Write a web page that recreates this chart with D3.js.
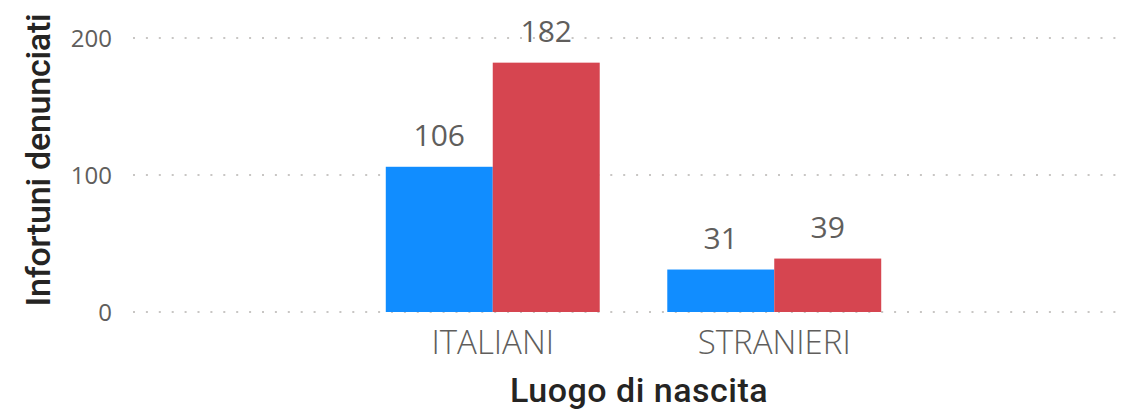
<!DOCTYPE html>
<html>
<head>
<meta charset="utf-8">
<script src="https://cdn.jsdelivr.net/npm/d3@7"></script>
<style>
  body { margin: 0; background: #fff; }
  svg { display: block; }
</style>
</head>
<body>
<svg id="chart" width="1124" height="411"></svg>
<script>
var categories = ['ITALIANI', 'STRANIERI'];
var series = ['s1', 's2'];
var seriesColors = ['#118DFF', '#D64550'];
var values1 = [106, 31];
var values2 = [182, 39];
var yTicks = [0, 100, 200];

var svg = d3.select('#chart');

var x = d3.scaleBand()
  .domain(categories)
  .range([352, 915])
  .paddingInner(0.24)
  .paddingOuter(0.12);

var xs = d3.scaleBand()
  .domain(series)
  .range([0, x.bandwidth()]);

var y = d3.scaleLinear()
  .domain([0, 200])
  .range([312, 38]);

var color = d3.scaleOrdinal().domain(series).range(seriesColors);

// dotted grid
svg.append('g').selectAll('line')
  .data(yTicks)
  .enter().append('line')
  .attr('x1', 133)
  .attr('x2', 1116)
  .attr('y1', function(d) { return y(d); })
  .attr('y2', function(d) { return y(d); })
  .attr('stroke', '#c8c6c4')
  .attr('stroke-width', 2)
  .attr('stroke-dasharray', '2,10.9');

// y tick labels
svg.append('g').selectAll('text')
  .data(yTicks)
  .enter().append('text')
  .attr('x', 112)
  .attr('y', function(d) { return y(d) + 9; })
  .attr('text-anchor', 'end')
  .attr('font-family', 'Open Sans')
  .attr('font-size', 24)
  .attr('fill', '#605e5c')
  .text(function(d) { return d; });

var rows = categories.map(function(c, i) {
  return { cat: c, vals: [
    { s: 's1', v: values1[i] },
    { s: 's2', v: values2[i] }
  ] };
});

var groups = svg.append('g').selectAll('g')
  .data(rows)
  .enter().append('g')
  .attr('transform', function(d) { return 'translate(' + x(d.cat) + ',0)'; });

groups.selectAll('rect')
  .data(function(d) { return d.vals; })
  .enter().append('rect')
  .attr('x', function(d) { return xs(d.s); })
  .attr('width', xs.bandwidth())
  .attr('y', function(d) { return y(d.v); })
  .attr('height', function(d) { return y(0) - y(d.v); })
  .attr('fill', function(d) { return color(d.s); });

groups.selectAll('text')
  .data(function(d) { return d.vals; })
  .enter().append('text')
  .attr('x', function(d) { return xs(d.s) + xs.bandwidth() / 2; })
  .attr('y', function(d) { return y(d.v) - 21; })
  .attr('text-anchor', 'middle')
  .attr('font-family', 'Open Sans')
  .attr('font-size', 30)
  .attr('fill', '#605e5c')
  .text(function(d) { return d.v; });

// x category labels
svg.append('g').selectAll('text')
  .data(categories)
  .enter().append('text')
  .attr('x', function(d) { return x(d) + x.bandwidth() / 2; })
  .attr('y', 354)
  .attr('text-anchor', 'middle')
  .attr('font-family', 'Open Sans')
  .attr('font-weight', 300)
  .attr('font-size', 33)
  .attr('fill', '#605e5c')
  .text(function(d) { return d; });

// axis titles
svg.append('text')
  .attr('x', 639)
  .attr('y', 402)
  .attr('text-anchor', 'middle')
  .attr('font-family', 'Roboto')
  .attr('font-weight', 500)
  .attr('font-size', 34)
  .attr('letter-spacing', 0.5)
  .attr('fill', '#252423')
  .text('Luogo di nascita');

svg.append('text')
  .attr('transform', 'translate(50,160) rotate(-90)')
  .attr('text-anchor', 'middle')
  .attr('font-family', 'Roboto')
  .attr('font-weight', 500)
  .attr('font-size', 34)
  .attr('letter-spacing', -0.25)
  .attr('fill', '#252423')
  .text('Infortuni denunciati');
</script>
</body>
</html>
